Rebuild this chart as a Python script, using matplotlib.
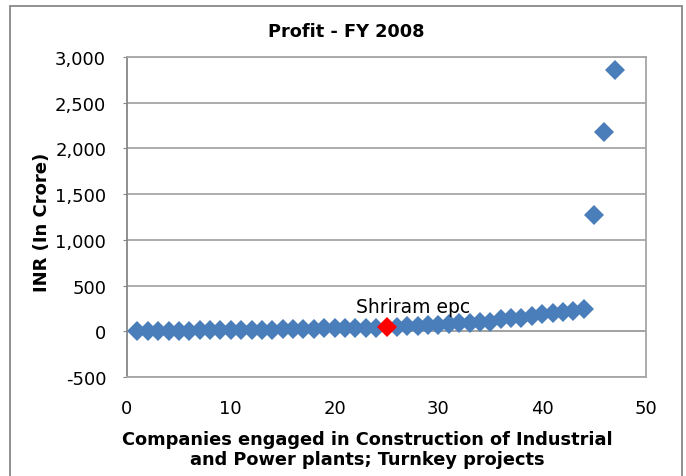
import matplotlib
matplotlib.use("Agg")
import matplotlib.pyplot as plt
from matplotlib.patches import Rectangle
from matplotlib.ticker import FuncFormatter, MultipleLocator

# Data
company_index = list(range(1, 48))
profit = [5, 3, 5, 6, 7, 8, 9, 10, 11, 12, 13, 14, 16, 18, 25, 28, 30, 30, 32, 33,
          34, 35, 36, 38, 45, 50, 55, 60, 65, 72, 80, 90, 95, 100, 105, 130, 140, 150,
          165, 190, 200, 210, 220, 240, 1270, 2180, 2860]
highlight_index = 25
highlight_label = "Shriram epc"
title = "Profit - FY 2008"
xlabel = "Companies engaged in Construction of Industrial\nand Power plants; Turnkey projects"
ylabel = "INR (In Crore)"

plt.rcParams['font.family'] = ['DejaVu Sans']

fig = plt.figure(figsize=(6.86, 4.77), dpi=100)
W, H = 686, 477
ax = fig.add_axes([127 / W, 1 - 378 / H, (646 - 127) / W, (378 - 58) / H])

blue = "#4A7EBB"
hx = [x for x in company_index if x != highlight_index]
hy = [y for x, y in zip(company_index, profit) if x != highlight_index]
ax.plot(hx, hy, linestyle="none", marker="D", markersize=10.5, color=blue,
        markeredgewidth=0, zorder=3)
ry = profit[company_index.index(highlight_index)]
ax.plot([highlight_index], [ry], linestyle="none", marker="D", markersize=10.5,
        color="#FF0000", markeredgewidth=0, zorder=4)
ax.annotate(highlight_label, (highlight_index, ry), xytext=(-30, 11),
            textcoords="offset pixels", ha="left", va="bottom", fontsize=13.5,
            color="#000000", zorder=5)

ax.set_xlim(0, 50)
ax.set_ylim(-500, 3000)
ax.xaxis.set_major_locator(MultipleLocator(10))
ax.yaxis.set_major_locator(MultipleLocator(500))
ax.yaxis.set_major_formatter(FuncFormatter(lambda v, p: f"{int(v):,}"))
ax.grid(axis="y", color="#A6A6A6", linewidth=1.3, zorder=0)
ax.axhline(0, color="#808080", linewidth=1.3, zorder=1)
for s in ax.spines.values():
    s.set_color("#A6A6A6")
    s.set_linewidth(1.3)
ax.spines["left"].set_color("#868686")
ax.tick_params(axis="y", length=3, color="#868686", pad=12, labelsize=13)
ax.tick_params(axis="x", length=0, pad=16, labelsize=13)

fig.text(346 / W, 1 - 32 / H, title, ha="center", va="center", fontsize=12.8,
         fontweight="bold")
fig.text(367 / W, 1 - 450 / H, xlabel, ha="center", va="center", fontsize=12.8,
         fontweight="bold", linespacing=1.1)
fig.text(42 / W, 1 - 222 / H, ylabel, ha="center", va="center", fontsize=13,
         fontweight="bold", rotation=90)

fig.patches.append(Rectangle((10 / W, -0.05), (682 - 10) / W, 1.05 - 7 / H,
                             transform=fig.transFigure, fill=False,
                             edgecolor="#888888", linewidth=1.3))

fig.savefig("out.png", dpi=100)
